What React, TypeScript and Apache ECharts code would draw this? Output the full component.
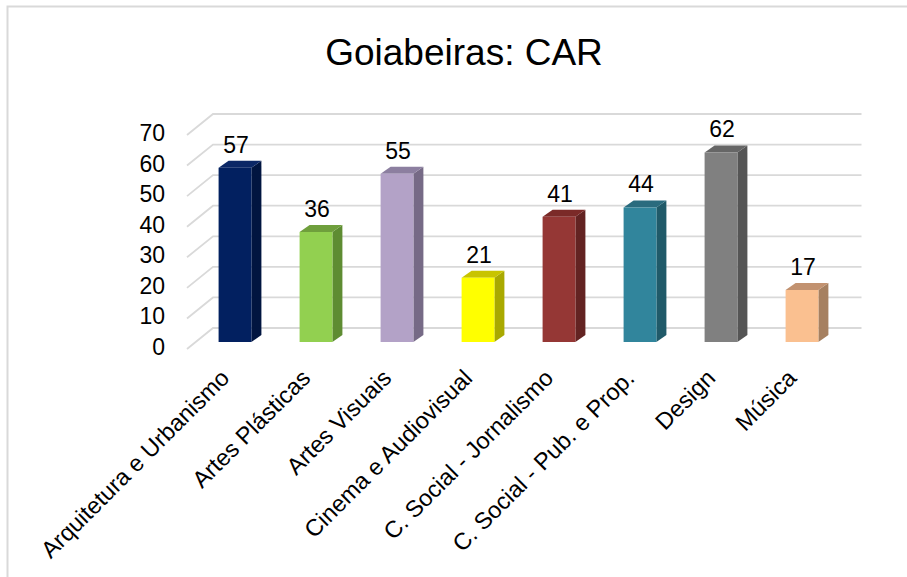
import React, { useEffect, useRef } from "react";
import * as echarts from "echarts";

const titleText = "Goiabeiras: CAR";
const categories = [
  "Arquitetura e Urbanismo",
  "Artes Plásticas",
  "Artes Visuais",
  "Cinema e Audiovisual",
  "C. Social - Jornalismo",
  "C. Social - Pub. e Prop.",
  "Design",
  "Música",
];
const values = [57, 36, 55, 21, 41, 44, 62, 17];
const yTicks = [0, 10, 20, 30, 40, 50, 60, 70];

const frontColors = ["#022060", "#92d050", "#b3a2c7", "#ffff00", "#953735", "#31859c", "#808080", "#fac090"];
const sideColors = ["#011540", "#5e8c32", "#766a86", "#a9a900", "#632322", "#205a69", "#555555", "#a68060"];
const topColors = ["#0b2766", "#6f9f3c", "#8c7fa0", "#c8c400", "#7b2a28", "#2a6b7e", "#666666", "#c29270"];

const FONT = "'Liberation Sans', Arial, sans-serif";

export default function App() {
  const ref = useRef<HTMLDivElement>(null);
  useEffect(() => {
    if (!ref.current) return;
    const chart = echarts.init(ref.current, undefined, { renderer: "svg" });
    const option: any = {
      animation: false,
      backgroundColor: "#ffffff",
      title: {
        text: titleText,
        left: 459,
        top: 28.5,
        textAlign: "center",
        textStyle: { fontFamily: FONT, fontSize: 37, fontWeight: "normal", color: "#000" },
      },
      graphic: [
        {
          type: "rect",
          shape: { x: 7.5, y: 6.5, width: 1000, height: 1000 },
          style: { fill: "none", stroke: "#d9d9d9", lineWidth: 2 },
          silent: true,
        },
      ],
      grid: [
        { left: 194.5, right: 64.5, top: 128, bottom: 235, containLabel: false },
        { left: 194.5, right: 64.5, top: 133, bottom: 230, containLabel: false },
      ],
      xAxis: [
        {
          type: "category",
          gridIndex: 0,
          data: categories,
          axisLine: { show: false },
          axisTick: { show: false },
          axisLabel: {
            interval: 0,
            rotate: 45,
            margin: 22,
            padding: [0, 14, 0, 0],
            fontFamily: FONT,
            fontSize: 23.5,
            color: "#000",
          },
        },
        {
          type: "category",
          gridIndex: 1,
          data: categories,
          show: false,
        },
      ],
      yAxis: [
        {
          type: "value",
          gridIndex: 0,
          min: 0,
          max: 70,
          interval: 10,
          axisLine: { show: false },
          axisTick: { show: false },
          splitLine: { show: false },
          axisLabel: { show: false },
        },
        {
          type: "value",
          gridIndex: 1,
          min: 0,
          max: 70,
          interval: 10,
          axisLine: { show: false },
          axisTick: { show: false },
          splitLine: { show: false },
          axisLabel: {
            margin: 29.5,
            fontFamily: FONT,
            fontSize: 23,
            color: "#000",
          },
        },
      ],
      series: [
        {
          type: "custom",
          silent: true,
          z: 1,
          xAxisIndex: 0,
          yAxisIndex: 0,
          data: yTicks.map((t) => [0, t]),
          renderItem: (params: any, api: any) => {
            const cs = params.coordSys;
            const y = api.coord([0, api.value(1)])[1];
            return {
              type: "polyline",
              shape: {
                points: [
                  [cs.x - 7.5, y + 7],
                  [cs.x + 18.5, y - 14],
                  [cs.x + cs.width + 19, y - 14],
                ],
              },
              style: { stroke: "#d9d9d9", lineWidth: 1.8, fill: "none" },
            };
          },
        },
        {
          type: "custom",
          z: 2,
          xAxisIndex: 0,
          yAxisIndex: 0,
          data: values.map((v, i) => [i, v]),
          renderItem: (params: any, api: any) => {
            const i = api.value(0);
            const v = api.value(1);
            const [cx, yt] = api.coord([i, v]);
            const yb = api.coord([i, 0])[1];
            const band = api.size([1, 0])[0];
            const w = band * 0.405;
            const x0 = cx - w / 2;
            const x1 = cx + w / 2;
            const dx = 10;
            const dy = -7;
            return {
              type: "group",
              children: [
                {
                  type: "polygon",
                  shape: { points: [[x1, yb], [x1 + dx, yb + dy], [x1 + dx, yt + dy], [x1, yt]] },
                  style: { fill: sideColors[i] },
                },
                {
                  type: "polygon",
                  shape: { points: [[x0, yt], [x1, yt], [x1 + dx, yt + dy], [x0 + dx, yt + dy]] },
                  style: { fill: topColors[i] },
                },
                {
                  type: "rect",
                  shape: { x: x0, y: yt, width: w, height: yb - yt },
                  style: { fill: frontColors[i] },
                },
                {
                  type: "text",
                  x: cx + 1,
                  y: yt - 23,
                  style: {
                    text: String(v),
                    fontFamily: FONT,
                    fontSize: 23,
                    fill: "#000",
                    align: "center",
                    verticalAlign: "middle",
                  },
                },
              ],
            };
          },
        },
      ],
    };
    chart.setOption(option);
    return () => chart.dispose();
  }, []);
  return (
    <div
      ref={ref}
      style={{ position: "absolute", left: 0, top: 0, width: 907, height: 577 }}
    />
  );
}
